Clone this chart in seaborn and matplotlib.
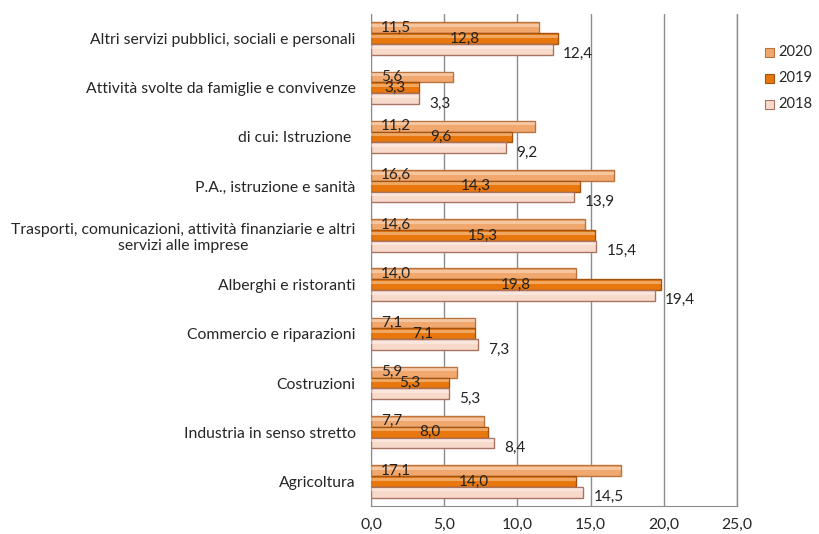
import pandas as pd
import numpy as np
import matplotlib.pyplot as plt
import seaborn as sns
from matplotlib.ticker import FixedLocator, FuncFormatter

categories = [
    "Altri servizi pubblici, sociali e personali",
    "Attività svolte da famiglie e convivenze",
    "di cui: Istruzione ",
    "P.A., istruzione e sanità",
    "Trasporti, comunicazioni, attività finanziarie e altri\nservizi alle imprese",
    "Alberghi e ristoranti",
    "Commercio e riparazioni",
    "Costruzioni",
    "Industria in senso stretto",
    "Agricoltura",
]
years = ["2020", "2019", "2018"]
v2020 = [11.5, 5.6, 11.2, 16.6, 14.6, 14.0, 7.1, 5.9, 7.7, 17.1]
v2019 = [12.8, 3.3, 9.6, 14.3, 15.3, 19.8, 7.1, 5.3, 8.0, 14.0]
v2018 = [12.4, 3.3, 9.2, 13.9, 15.4, 19.4, 7.3, 5.3, 8.4, 14.5]

df = pd.DataFrame({
    "cat": categories * 3,
    "anno": ["2020"] * 10 + ["2019"] * 10 + ["2018"] * 10,
    "val": v2020 + v2019 + v2018,
})

sns.set_style("white")
plt.rcParams["font.family"] = ["Lato", "DejaVu Sans"]

colors = {"2020": "#F0A86E", "2019": "#E8780E", "2018": "#F8DACB"}
edges = {"2020": "#B8733F", "2019": "#A3530F", "2018": "#A87360"}

fig = plt.figure(figsize=(8.2, 5.34), dpi=100)
ax = fig.add_axes([0.4524, 0.0524, 0.4464, 0.9214])

sns.barplot(data=df, x="val", y="cat", hue="anno", hue_order=years,
            order=categories, palette=colors, saturation=1, orient="h", width=0.66,
            legend=False, ax=ax)

# bordo e riflesso chiaro sulle barre
for cont, yr in zip(ax.containers, years):
    for p in cont.patches:
        p.set_edgecolor(edges[yr])
        p.set_linewidth(1.0)
        x0, y0 = p.get_x(), p.get_y()
        w, h = p.get_width(), p.get_height()
        ax.add_patch(plt.Rectangle((x0, y0 + h * 0.15), w, h * 0.28,
                                   facecolor="white", alpha=0.35, lw=0, zorder=3))

# etichette dati
for cont, yr in zip(ax.containers, years):
    for p in cont.patches:
        w = p.get_width()
        yc = p.get_y() + p.get_height() / 2
        txt = f"{w:.1f}".replace(".", ",")
        if yr == "2020":
            ax.text(0.7, yc, txt, ha="left", va="center", fontsize=11, color="#222222", zorder=5)
        elif yr == "2019":
            ax.text(w / 2, yc, txt, ha="center", va="center", fontsize=11, color="#222222", zorder=5)
        else:
            ax.text(w + 0.7, yc + 0.1, txt, ha="left", va="center", fontsize=11, color="#222222", zorder=5)

ax.set_xlim(0, 25)
ax.set_ylim(9.5, -0.5)
ax.set_xticks(np.arange(0, 26, 5))
ax.xaxis.set_major_formatter(FuncFormatter(lambda v, _: f"{v:.1f}".replace(".", ",")))
ax.xaxis.grid(True, color="#8c8c8c", lw=1)
ax.axvline(25, color="#8c8c8c", lw=1, clip_on=False, zorder=0.5)
ax.set_axisbelow(True)
ax.set_xlabel("")
ax.set_ylabel("")

ax.set_yticks(range(10))
ax.set_yticklabels(categories, multialignment="center")
ax.yaxis.set_minor_locator(FixedLocator(np.arange(-0.5, 10, 1)))
ax.tick_params(axis="y", which="major", length=0, labelsize=11.3, pad=11)
ax.tick_params(axis="y", which="minor", length=5, color="#8c8c8c", direction="out")
ax.tick_params(axis="x", which="major", length=5, color="#8c8c8c", labelsize=11.3, direction="out")

for s in ["top", "right"]:
    ax.spines[s].set_visible(False)
for s in ["left", "bottom"]:
    ax.spines[s].set_color("#8c8c8c")

# legenda
for i, yr in enumerate(years):
    yy = 1 - (52 + i * 26) / 534
    fig.patches.append(plt.Rectangle((0.9335, yy - 0.009), 0.0105, 0.016, transform=fig.transFigure,
                                     facecolor=colors[yr], edgecolor=edges[yr], lw=0.8))
    fig.text(0.949, yy, yr, ha="left", va="center", fontsize=10.5)

fig.savefig("out.png", dpi=100)
